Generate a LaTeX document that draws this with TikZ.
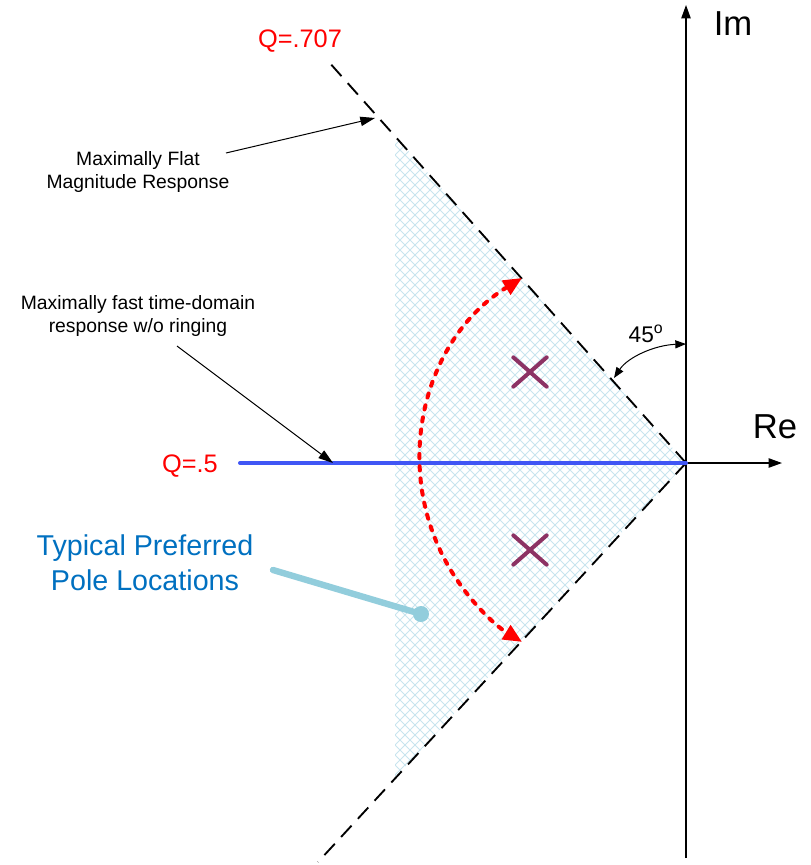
\documentclass[tikz,border=0pt]{standalone}
\usepackage{fontspec}
\setmainfont{Liberation Sans}
\usetikzlibrary{arrows.meta,shapes.misc,calc}
\definecolor{HatchBlue}{RGB}{200,228,238}
\definecolor{QRed}{RGB}{255,0,0}
\definecolor{LineBlue}{RGB}{64,86,245}
\definecolor{PolePurple}{RGB}{140,50,100}
\definecolor{NoteBlue}{RGB}{0,112,192}
\definecolor{CalloutBlue}{RGB}{146,205,220}

\begin{document}
\begin{tikzpicture}[x=0.75pt,y=-0.75pt,
    axis/.style={draw=black,line width=0.9pt,-{Triangle[length=10pt,width=7pt]}},
    guide/.style={draw=black,line width=1.4pt,dash pattern=on 11.5pt off 7pt},
    note/.style={draw=black,line width=0.75pt,-{Triangle[length=11pt,width=7pt]}},
    notetxt/.style={align=center,inner sep=0pt,font=\fontsize{14.5}{17}\selectfont},
    qlbl/.style={inner sep=0pt,text=QRed,font=\fontsize{19}{22}\selectfont},
    axlbl/.style={inner sep=0pt,font=\fontsize{26}{30}\selectfont},
    pole/.style={cross out,draw=PolePurple,line width=3pt,line cap=round,
                 minimum width=22pt,minimum height=19pt,inner sep=0pt},
    swing/.style={draw=QRed,line width=3pt,line cap=round,dash pattern=on 3.2pt off 6pt,
                  {Triangle[length=14pt,width=12pt]}-{Triangle[length=14pt,width=12pt]}},
    callout/.style={draw=CalloutBlue,line width=4.8pt,line cap=round}
  ]
    \useasboundingbox (0,0) rectangle (811,865);

    % shaded region of preferred poles
    \begin{scope}
      \clip (395,136) -- (686,463) -- (395,778) -- cycle;
      \foreach \c in {500,510,...,1480}
        \draw[HatchBlue,line width=0.65pt] (380,\c-380) -- (700,\c-700);
      \foreach \c in {-420,-410,...,580}
        \draw[HatchBlue,line width=0.65pt] (380,380-\c) -- (700,700-\c);
    \end{scope}

    % axes
    \coordinate (O) at (686,463);
    \coordinate (imBot) at (686,858);
    \coordinate (imTop) at (686,5);
    \coordinate (reEnd) at (782,463);
    \draw[axis] (imBot) -- (imTop);
    \draw[axis] (O) -- (reEnd);
    \node[axlbl] (imLbl) at (733,24) {Im};
    \node[axlbl] (reLbl) at (775,427) {Re};

    % Q=.707 lines
    \coordinate (upEnd) at (328,61);
    \coordinate (loEnd) at (318,862);
    \draw[guide] (O) -- (upEnd);
    \draw[guide] (O) -- (loEnd);
    \node[qlbl] (qHigh) at (300,41) {Q=.707};

    % Q=.5 line
    \coordinate (qStart) at (240,463);
    \draw[LineBlue,line width=3pt,line cap=round] (qStart) -- (O);
    \node[qlbl] (qHalf) at (190,466) {Q=.5};

    % poles and swing
    \node[pole] (p1) at (530,372) {};
    \node[pole] (p2) at (530,550) {};
    \coordinate (arcTop) at (522,278);
    \draw[swing] (arcTop) arc[start angle=238.5,end angle=121.5,radius=213.4];

    % 45 degree mark
    \coordinate (angA) at (614,378);
    \coordinate (angB) at (686,344);
    \draw[line width=0.75pt,{Triangle[length=8pt,width=6pt]}-{Triangle[length=8pt,width=6pt]}]
      (angA) .. controls (628,357) and (655,345) .. (angB);
    \node[inner sep=0pt,font=\fontsize{17}{20}\selectfont] (angLbl) at (646,334) {45\textsuperscript{o}};

    % notes
    \node[notetxt] (flatTxt) at (138,172) {Maximally Flat\\Magnitude Response};
    \coordinate (flatTail) at (226,153);
    \coordinate (flatHead) at (375,118);
    \draw[note] (flatTail) -- (flatHead);

    \node[notetxt] (fastTxt) at (138,316) {Maximally fast time-domain\\response w/o ringing};
    \coordinate (fastTail) at (177,346);
    \coordinate (fastHead) at (333,463);
    \draw[note] (fastTail) -- (fastHead);

    \node[align=center,inner sep=0pt,text=NoteBlue,font=\fontsize{21.5}{26}\selectfont]
      (poleTxt) at (145,563) {Typical Preferred\\Pole Locations};
    \node[circle,fill=CalloutBlue,minimum size=12pt,inner sep=0pt] (poleDot) at (421,614) {};
    \coordinate (poleTail) at (273,570);
    \draw[callout] (poleTail) -- (poleDot.center);
\end{tikzpicture}
\end{document}
